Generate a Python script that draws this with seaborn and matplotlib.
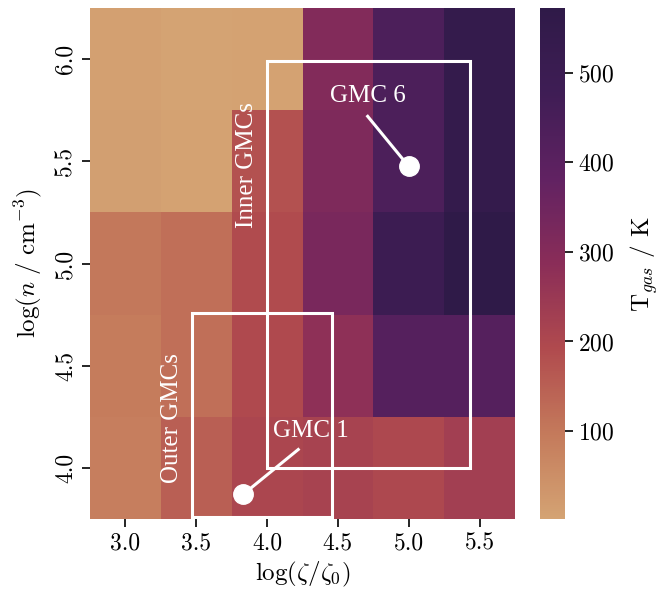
import numpy as np
import pandas as pd
import matplotlib
matplotlib.use("Agg")
import matplotlib.pyplot as plt
import seaborn as sns
from matplotlib.patches import Rectangle

plt.rcParams['font.family'] = 'serif'
plt.rcParams['font.serif'] = ['cmr10', 'DejaVu Serif']
plt.rcParams['mathtext.fontset'] = 'cm'
plt.rcParams['axes.formatter.use_mathtext'] = True
plt.rcParams['axes.unicode_minus'] = False

# ---- data ----
log_zeta = [3.0, 3.5, 4.0, 4.5, 5.0, 5.5]
log_n = [6.0, 5.5, 5.0, 4.5, 4.0]          # top to bottom
T_row_60 = [10, 3, 5, 305, 440, 545]
T_row_55 = [12, 5, 180, 315, 440, 545]
T_row_50 = [100, 120, 190, 325, 495, 572]
T_row_45 = [92, 118, 195, 278, 415, 415]
T_row_40 = [88, 150, 205, 215, 198, 228]

xtick_labels = ["3.0", "3.5", "4.0", "4.5", "5.0", "5.5"]
ytick_labels = ["6.0", "5.5", "5.0", "4.5", "4.0"]
cbar_ticks = [100, 200, 300, 400, 500]

# boxes: (x0, x1, y0, y1) in log space
inner_box = (4.0, 5.43, 4.0, 5.99)
outer_box = (3.47, 4.46, 3.76, 4.76)
# GMC points and label positions
gmc_names = ["GMC 6", "GMC 1"]
gmc_x = [5.0, 3.83]
gmc_y = [5.475, 3.87]
gmc_line_x = [4.71, 4.22]
gmc_line_y = [5.72, 4.09]
gmc_text_x = [4.71, 4.31]
gmc_text_y = [5.82, 4.18]
region_names = ["Inner GMCs", "Outer GMCs"]
region_x = [3.86, 3.33]
region_y = [5.48, 4.245]

df = pd.DataFrame([T_row_60, T_row_55, T_row_50, T_row_45, T_row_40],
                  index=ytick_labels, columns=xtick_labels)

cmap = sns.blend_palette(["#d4a373", "#c47a5b", "#b04a4e", "#8a2d58",
                          "#612262", "#3f1d55", "#2f1a48"], as_cmap=True)

fig = plt.figure(figsize=(6.68, 5.97), dpi=100)
ax = fig.add_axes([90/668, 1-519/597, 425/668, 511/597])
cax = fig.add_axes([540/668, 1-519/597, 25/668, 511/597])

sns.heatmap(df, ax=ax, cbar_ax=cax, cmap=cmap, vmin=2, vmax=572,
            cbar_kws={"ticks": cbar_ticks})

dx = log_zeta[1] - log_zeta[0]
dy = log_n[0] - log_n[1]
def tx(v):
    return (v - (log_zeta[0] - dx/2)) / dx
def ty(v):
    return ((log_n[0] + dy/2) - v) / dy

ax.set_xticks(np.arange(len(log_zeta)) + 0.5)
ax.set_xticklabels(xtick_labels, rotation=0)
ax.set_yticks(np.arange(len(log_n)) + 0.5)
ax.set_yticklabels(ytick_labels, rotation=90, va='center')
ax.tick_params(axis='both', labelsize=17, length=6, width=1.2, direction='out')
ax.set_xlabel(r'$\log(\zeta/\zeta_0)$', fontsize=18, labelpad=4)
ax.set_ylabel(r'$\log(n\ /\ \mathrm{cm}^{-3})$', fontsize=18, labelpad=8)

for (x0, x1, y0, y1) in [inner_box, outer_box]:
    ax.add_patch(Rectangle((tx(x0), ty(y1)), tx(x1) - tx(x0), ty(y0) - ty(y1),
                           fill=False, edgecolor='white', linewidth=2.2, zorder=3))

for name, px, py, lx, ly, txx, tyy in zip(gmc_names, gmc_x, gmc_y, gmc_line_x,
                                          gmc_line_y, gmc_text_x, gmc_text_y):
    ax.plot([tx(lx), tx(px)], [ty(ly), ty(py)], color='white', lw=2.2, zorder=4)
    ax.plot(tx(px), ty(py), 'o', color='white', markersize=14, zorder=5)
    ax.text(tx(txx), ty(tyy), name, color='white', fontsize=18,
            family='Liberation Serif', ha='center', va='center', zorder=6)

for name, rx, ry in zip(region_names, region_x, region_y):
    ax.text(tx(rx), ty(ry), name, color='white', fontsize=18, rotation=90,
            family='Liberation Serif', ha='center', va='center', zorder=6)

cax.tick_params(labelsize=17, length=6, width=1.2)
cax.set_ylabel(r'$\mathrm{T}_{gas}$ / K', fontsize=18, labelpad=10)

fig.savefig("out.png", dpi=100)
